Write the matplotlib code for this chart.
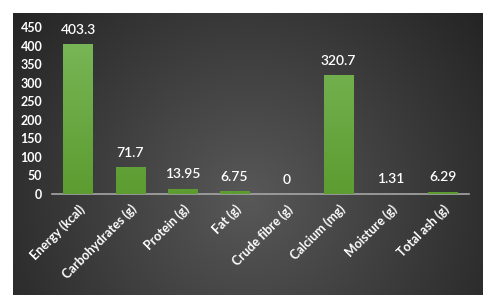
import numpy as np
import matplotlib
matplotlib.use("Agg")
import matplotlib.pyplot as plt
from matplotlib.colors import LinearSegmentedColormap

categories = ["Energy (kcal)", "Carbohydrates (g)", "Protein (g)", "Fat (g)",
              "Crude fibre (g)", "Calcium (mg)", "Moisture (g)", "Total ash (g)"]
values = [403.3, 71.7, 13.95, 6.75, 0, 320.7, 1.31, 6.29]
value_labels = ["403.3", "71.7", "13.95", "6.75", "0", "320.7", "1.31", "6.29"]
yticks = [0, 50, 100, 150, 200, 250, 300, 350, 400, 450]

W, H = 492, 307
fig = plt.figure(figsize=(W / 100, H / 100), dpi=100)
fig.patch.set_facecolor("white")

# background panel with radial gradient
px0, px1, py0, py1 = 13, 483, 13, 295
bg = fig.add_axes([px0 / W, 1 - py1 / H, (px1 - px0) / W, (py1 - py0) / H])
nx, ny = 470, 282
xx, yy = np.meshgrid(np.arange(nx), np.arange(ny))
cx, cy = 235, 185
r = np.sqrt((xx - cx) ** 2 + (yy - cy) ** 2) / 300.0
r = np.clip(r, 0, 1)
c_in = np.array([0x58, 0x58, 0x58]) / 255
c_out = np.array([0x24, 0x24, 0x24]) / 255
img = c_in[None, None, :] * (1 - r[..., None]) + c_out[None, None, :] * r[..., None]
bg.imshow(img, aspect="auto", interpolation="bilinear")
bg.set_axis_off()

plt.rcParams["font.family"] = ["Lato", "DejaVu Sans"]

ax = fig.add_axes([52 / W, 1 - 194 / H, 417 / W, 167 / H])
ax.patch.set_alpha(0)
x = np.arange(len(categories))
bars = ax.bar(x, values, width=0.56, color="#6aab3d", zorder=2)

grad = LinearSegmentedColormap.from_list("g", ["#5c9c30", "#7bb85a"])
gimg = np.linspace(0, 1, 256).reshape(-1, 1)
for b in bars:
    if b.get_height() <= 0:
        continue
    im = ax.imshow(gimg, cmap=grad, origin="lower", aspect="auto",
                   extent=[b.get_x(), b.get_x() + b.get_width(), 0, 450], zorder=3)
    im.set_clip_path(b)

ax.set_xlim(-0.5, len(categories) - 0.5)
ax.set_ylim(0, 450)
ax.set_yticks(yticks)
ax.set_yticklabels([str(t) for t in yticks], color="white", fontsize=9, fontweight="bold")
ax.set_xticks(x)
ax.set_xticklabels(categories, rotation=45, ha="right", rotation_mode="anchor",
                   color="white", fontsize=9, fontweight="bold")
ax.tick_params(axis="both", length=0)
ax.tick_params(axis="y", pad=7)
ax.tick_params(axis="x", pad=6)
for s in ["top", "right", "left"]:
    ax.spines[s].set_visible(False)
ax.spines["bottom"].set_color("#a6a6a6")
ax.spines["bottom"].set_linewidth(1.2)

for xi, v, lab in zip(x, values, value_labels):
    ax.annotate(lab, (xi, v), xytext=(0, 6), textcoords="offset points",
                ha="center", va="bottom", color="white", fontsize=10, fontweight="semibold")

fig.savefig("out.png", dpi=100, facecolor="white")
